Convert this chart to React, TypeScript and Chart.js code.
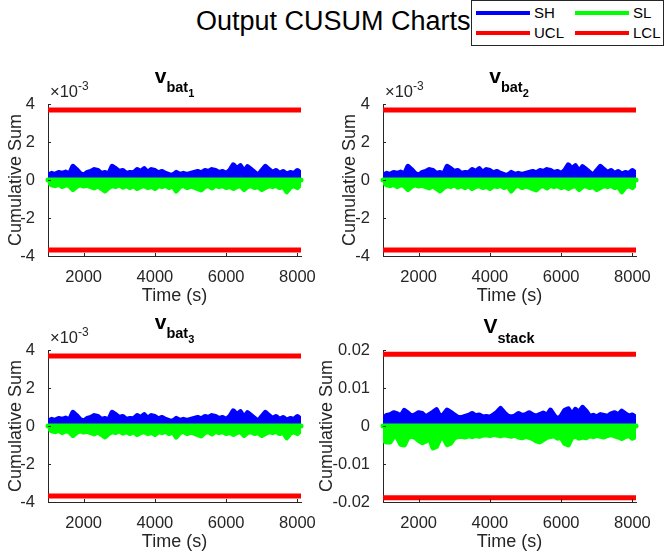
import React, { useEffect, useRef } from "react";
import { Chart, registerables } from "chart.js";
Chart.register(...registerables);

const FONT = "'Liberation Sans', Arial, Helvetica, sans-serif";
const AXIS_COLOR = "#262626";

// time grid (s)
const times = [
  1000, 1100, 1200, 1300, 1400, 1500, 1600, 1700, 1800, 1900,
  2000, 2100, 2200, 2300, 2400, 2500, 2600, 2700, 2800, 2900,
  3000, 3100, 3200, 3300, 3400, 3500, 3600, 3700, 3800, 3900,
  4000, 4100, 4200, 4300, 4400, 4500, 4600, 4700, 4800, 4900,
  5000, 5100, 5200, 5300, 5400, 5500, 5600, 5700, 5800, 5900,
  6000, 6100, 6200, 6300, 6400, 6500, 6600, 6700, 6800, 6900,
  7000, 7100, 7200, 7300, 7400, 7500, 7600, 7700, 7800, 7900,
  8000, 8100,
];

// battery cell CUSUM envelopes (x 1e-3)
const batSH = [
  0.25, 0.35, 0.30, 0.40, 0.35, 0.42, 0.30, 0.72, 0.55, 0.35,
  0.25, 0.40, 0.45, 0.55, 0.50, 0.35, 0.40, 0.30, 0.72, 0.60,
  0.45, 0.50, 0.35, 0.40, 0.38, 0.55, 0.45, 0.60, 0.40, 0.55,
  0.50, 0.38, 0.45, 0.35, 0.28, 0.25, 0.40, 0.30, 0.35, 0.30,
  0.35, 0.40, 0.45, 0.38, 0.50, 0.45, 0.55, 0.50, 0.40, 0.45,
  0.35, 0.50, 0.80, 0.60, 0.75, 0.45, 0.70, 0.55, 0.40, 0.25,
  0.50, 0.72, 0.55, 0.40, 0.50, 0.35, 0.45, 0.30, 0.40, 0.35,
  0.50, 0.35,
];
const batSL = [
  -0.10, -0.25, -0.30, -0.22, -0.35, -0.25, -0.30, -0.50, -0.35, -0.25,
  -0.32, -0.28, -0.35, -0.42, -0.30, -0.45, -0.58, -0.40, -0.30, -0.35,
  -0.25, -0.38, -0.30, -0.40, -0.28, -0.45, -0.35, -0.30, -0.40, -0.32,
  -0.45, -0.30, -0.35, -0.28, -0.40, -0.30, -0.58, -0.35, -0.28, -0.40,
  -0.32, -0.38, -0.45, -0.52, -0.35, -0.30, -0.42, -0.28, -0.35, -0.30,
  -0.40, -0.32, -0.45, -0.35, -0.28, -0.50, -0.35, -0.30, -0.40, -0.35,
  -0.50, -0.40, -0.30, -0.35, -0.28, -0.40, -0.32, -0.62, -0.38, -0.30,
  -0.40, -0.20,
];
const batUCL = 3.68;
const batLCL = -3.68;
const batTicks = [-4, -2, 0, 2, 4];

// stack CUSUM envelopes (x 1e-3 V)
const stackSH = [
  1.8, 2.8, 3.0, 3.5, 3.2, 2.6, 4.1, 3.4, 2.6, 2.9,
  3.5, 3.3, 2.4, 3.0, 3.6, 4.3, 2.4, 3.0, 4.2, 3.6,
  2.9, 2.3, 2.2, 2.5, 2.8, 3.3, 2.7, 2.9, 2.4, 2.5,
  2.3, 2.9, 3.6, 4.6, 3.5, 2.6, 2.4, 2.6, 3.3, 2.8,
  3.0, 3.5, 2.9, 2.6, 3.0, 3.4, 2.8, 4.2, 2.8, 1.8,
  2.6, 4.1, 4.5, 3.0, 4.4, 3.6, 4.9, 3.9, 2.5, 2.8,
  2.4, 3.0, 2.8, 2.5, 3.2, 3.5, 2.9, 3.9, 3.2, 2.6,
  2.9, 2.2,
];
const stackSL = [
  -3.8, -4.2, -4.2, -2.7, -3.0, -4.8, -5.0, -3.0, -2.7, -3.0,
  -3.8, -4.4, -4.0, -3.0, -5.8, -5.4, -3.3, -3.0, -4.9, -4.5,
  -3.1, -2.8, -2.7, -2.9, -2.6, -2.8, -2.5, -2.7, -2.4, -2.3,
  -2.5, -2.2, -2.4, -2.6, -2.3, -2.5, -2.7, -2.4, -2.9, -3.1,
  -2.8, -3.0, -3.3, -3.9, -4.2, -3.6, -3.0, -2.8, -2.6, -3.2,
  -3.0, -4.6, -5.0, -3.0, -2.7, -3.2, -2.9, -3.1, -2.6, -2.8,
  -2.5, -2.7, -2.9, -2.5, -2.2, -2.6, -2.9, -3.3, -2.8, -2.5,
  -3.2, -2.8,
];
const stackUCL = 0.0189;
const stackLCL = -0.0189;
const stackTicks = [-0.02, -0.01, 0, 0.01, 0.02];

const xTicks = [2000, 4000, 6000, 8000];
const xMin = 1000;
const xMax = 8100;

const LINE_W = 5;

// inward tick marks (MATLAB style)
const inwardTicks = {
  id: "inwardTicks",
  afterDraw(chart: any) {
    const { ctx, chartArea, scales } = chart;
    ctx.save();
    ctx.strokeStyle = AXIS_COLOR;
    ctx.lineWidth = 1;
    ctx.beginPath();
    for (const t of scales.x.ticks) {
      const px = Math.round(scales.x.getPixelForValue(t.value)) + 0.5;
      ctx.moveTo(px, chartArea.bottom);
      ctx.lineTo(px, chartArea.bottom - 3);
    }
    for (const t of scales.y.ticks) {
      const py = Math.round(scales.y.getPixelForValue(t.value)) + 0.5;
      ctx.moveTo(chartArea.left, py);
      ctx.lineTo(chartArea.left + 3, py);
    }
    ctx.stroke();
    ctx.restore();
  },
};

// the SL trace sits on zero between excursions: draw its stroke thickness along zero
const slZeroStroke = {
  id: "slZeroStroke",
  afterDatasetDraw(chart: any, args: any) {
    const ds = chart.data.datasets[args.index];
    if (ds.label !== "SL") return;
    const { ctx, scales } = chart;
    const y = scales.y.getPixelForValue(0);
    const first = ds.data[0].x;
    const last = ds.data[ds.data.length - 1].x;
    ctx.save();
    ctx.strokeStyle = ds.borderColor;
    ctx.lineWidth = LINE_W;
    ctx.lineCap = "round";
    ctx.beginPath();
    ctx.moveTo(scales.x.getPixelForValue(first), y);
    ctx.lineTo(scales.x.getPixelForValue(last), y);
    ctx.stroke();
    ctx.restore();
  },
};

type PlotProps = {
  plotLeft: number;
  top: number;
  yAxisW: number;
  right: number;
  sh: number[];
  sl: number[];
  scale: number;
  ucl: number;
  lcl: number;
  yTicks: number[];
};

const PLOT_W = 253;
const PLOT_H = 152;
const X_AXIS_H = 55;
const PAD_TOP = 44;

function Subplot({ plotLeft, top, yAxisW, right, sh, sl, scale, ucl, lcl, yTicks }: PlotProps) {
  const ref = useRef<HTMLCanvasElement | null>(null);
  const left = plotLeft - yAxisW;
  const width = right - left;
  useEffect(() => {
    if (!ref.current) return;
    const lineStyle = {
      pointRadius: 0,
      borderJoinStyle: "round" as const,
      borderCapStyle: "round" as const,
      tension: 0,
    };
    const chart = new Chart(ref.current, {
      type: "line",
      data: {
        datasets: [
          {
            label: "UCL",
            data: [{ x: xMin, y: ucl }, { x: xMax, y: ucl }],
            borderColor: "#ff0000",
            borderWidth: LINE_W,
            fill: false,
            ...lineStyle,
            borderCapStyle: "butt",
          },
          {
            label: "LCL",
            data: [{ x: xMin, y: lcl }, { x: xMax, y: lcl }],
            borderColor: "#ff0000",
            borderWidth: LINE_W,
            fill: false,
            ...lineStyle,
            borderCapStyle: "butt",
          },
          {
            label: "SL",
            data: times.map((t, i) => ({ x: t, y: sl[i] * scale })),
            borderColor: "#00ff00",
            backgroundColor: "#00ff00",
            borderWidth: LINE_W,
            fill: "origin",
            ...lineStyle,
          },
          {
            label: "SH",
            data: times.map((t, i) => ({ x: t, y: sh[i] * scale })),
            borderColor: "#0000ff",
            backgroundColor: "#0000ff",
            borderWidth: LINE_W,
            fill: "origin",
            ...lineStyle,
          },
        ],
      },
      options: {
        animation: false,
        responsive: false,
        events: [],
        layout: { padding: { left: 0, top: PAD_TOP, right: width - yAxisW - PLOT_W, bottom: 0 } },
        plugins: { legend: { display: false }, tooltip: { enabled: false }, title: { display: false } },
        scales: {
          x: {
            type: "linear",
            min: xMin,
            max: xMax,
            afterBuildTicks: (s: any) => {
              s.ticks = xTicks.map((v) => ({ value: v }));
            },
            afterFit: (s: any) => {
              s.height = X_AXIS_H;
            },
            grid: { display: false },
            border: { display: true, color: AXIS_COLOR, width: 1 },
            ticks: {
              color: AXIS_COLOR,
              font: { family: FONT, size: 16.5 },
              padding: 4,
              maxRotation: 0,
              autoSkip: false,
              callback: (v: any) => String(v),
            },
            title: {
              display: true,
              text: "Time (s)",
              color: AXIS_COLOR,
              font: { family: FONT, size: 18 },
              padding: { top: 0, bottom: 4 },
            },
          },
          y: {
            type: "linear",
            min: yTicks[0],
            max: yTicks[yTicks.length - 1],
            afterBuildTicks: (s: any) => {
              s.ticks = yTicks.map((v) => ({ value: v }));
            },
            afterFit: (s: any) => {
              s.width = yAxisW;
            },
            grid: { display: false },
            border: { display: true, color: AXIS_COLOR, width: 1 },
            ticks: {
              color: AXIS_COLOR,
              font: { family: FONT, size: 16.5 },
              padding: 5,
              autoSkip: false,
              callback: (v: any) => String(v),
            },
            title: {
              display: true,
              text: "Cumulative Sum",
              color: AXIS_COLOR,
              font: { family: FONT, size: 18 },
              padding: { top: 5, bottom: 0 },
            },
          },
        },
      },
      plugins: [inwardTicks, slZeroStroke],
    } as any);
    return () => chart.destroy();
  }, []);
  const height = PAD_TOP + PLOT_H + X_AXIS_H;
  return (
    <canvas
      ref={ref}
      width={width}
      height={height}
      style={{ position: "absolute", left, top, width, height, display: "block" }}
    />
  );
}

function Title({ cx, baseline, main, sub, subsub }: { cx: number; baseline: number; main: string; sub: string; subsub?: string }) {
  // line-height 21px with 21px font: baseline ≈ top + 17.8
  return (
    <div
      style={{
        position: "absolute",
        left: cx - 100,
        top: baseline - 18,
        width: 200,
        textAlign: "center",
        fontFamily: FONT,
        fontWeight: "bold",
        fontSize: 21,
        lineHeight: "21px",
        color: "#000",
        whiteSpace: "nowrap",
      }}
    >
      {main}
      <span style={{ fontSize: 14.5, position: "relative", top: subsub ? 9 : 10 }}>
        {sub}
        {subsub ? <span style={{ fontSize: 11, position: "relative", top: 5 }}>{subsub}</span> : null}
      </span>
    </div>
  );
}

function Exponent({ left, top }: { left: number; top: number }) {
  return (
    <div
      style={{
        position: "absolute",
        left,
        top,
        fontFamily: FONT,
        fontSize: 16.5,
        lineHeight: "17px",
        color: AXIS_COLOR,
        whiteSpace: "nowrap",
      }}
    >
      ×10<span style={{ fontSize: 12, position: "relative", top: -7 }}>-3</span>
    </div>
  );
}

function LegendItem({ left, top, color, label }: { left: number; top: number; color: string; label: string }) {
  return (
    <>
      <div style={{ position: "absolute", left, top: top - 2, width: 54, height: 4, background: color }} />
      <div
        style={{
          position: "absolute",
          left: left + 58,
          top: top - 9,
          fontFamily: FONT,
          fontSize: 15,
          lineHeight: "18px",
          color: "#000",
          whiteSpace: "nowrap",
        }}
      >
        {label}
      </div>
    </>
  );
}

export default function App() {
  return (
    <div
      style={{
        position: "fixed",
        left: 0,
        top: 0,
        width: 664,
        height: 555,
        overflow: "hidden",
        background: "#fff",
      }}
    >
      <div
        style={{
          position: "absolute",
          left: 196,
          top: 6,
          fontFamily: FONT,
          fontSize: 27,
          lineHeight: "30px",
          color: "#000",
          whiteSpace: "nowrap",
        }}
      >
        Output CUSUM Charts
      </div>
      <div
        style={{
          position: "absolute",
          left: 471,
          top: 0,
          width: 191,
          height: 44,
          border: "1px solid #262626",
          background: "#fff",
        }}
      />
      <LegendItem left={476} top={13} color="#0000ff" label="SH" />
      <LegendItem left={575} top={13} color="#00ff00" label="SL" />
      <LegendItem left={476} top={33} color="#ff0000" label="UCL" />
      <LegendItem left={575} top={33} color="#ff0000" label="LCL" />

      <Subplot plotLeft={48} top={60} yAxisW={48} right={332} sh={batSH} sl={batSL} scale={1} ucl={batUCL} lcl={batLCL} yTicks={batTicks} />
      <Subplot plotLeft={383} top={60} yAxisW={49} right={664} sh={batSH} sl={batSL} scale={1} ucl={batUCL} lcl={batLCL} yTicks={batTicks} />
      <Subplot plotLeft={48} top={306} yAxisW={48} right={332} sh={batSH} sl={batSL} scale={1} ucl={batUCL} lcl={batLCL} yTicks={batTicks} />
      <Subplot plotLeft={383} top={306} yAxisW={72} right={664} sh={stackSH} sl={stackSL} scale={0.001} ucl={stackUCL} lcl={stackLCL} yTicks={stackTicks} />

      <Title cx={174.5} baseline={83} main="v" sub="bat" subsub="1" />
      <Title cx={509} baseline={83} main="v" sub="bat" subsub="2" />
      <Title cx={174.5} baseline={329} main="v" sub="bat" subsub="3" />
      <Title cx={509} baseline={333} main="V" sub="stack" />

      <Exponent left={50} top={83} />
      <Exponent left={385} top={83} />
      <Exponent left={50} top={329} />
    </div>
  );
}
